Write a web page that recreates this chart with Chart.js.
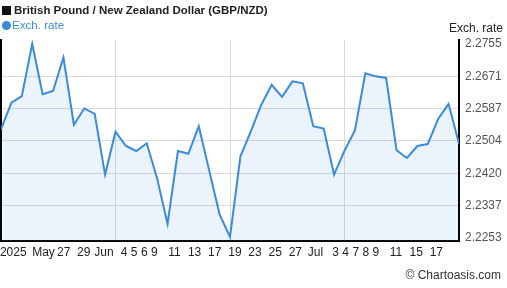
<!DOCTYPE html>
<html>
<head>
<meta charset="utf-8">
<script src="https://cdn.jsdelivr.net/npm/chart.js@4/dist/chart.umd.min.js"></script>
<style>
  body { margin: 0; background: #fff; font-family: 'Liberation Sans', Arial, sans-serif; }
  #wrap { position: relative; width: 507px; height: 288px; }
  #wrap canvas { position: absolute; left: 0; top: 0; }
  .title { position: absolute; left: 2px; top: 3px; font-weight: bold; font-size: 11.5px; line-height: 14px; color: #222; white-space: nowrap; }
  .title .sq { display: inline-block; width: 9px; height: 9px; background: #111; margin-right: 3px; vertical-align: -1px; }
  .legend { position: absolute; left: 2px; top: 18px; font-size: 11.6px; line-height: 14px; color: #3a8ae0; }
  .legend .dot { display: inline-block; width: 9px; height: 9px; border-radius: 50%; background: #3a8ae0; margin-right: 1px; vertical-align: -1px; }
  .ytitle { position: absolute; right: 4px; top: 21px; font-size: 12px; line-height: 14px; color: #222; }
  .credit { position: absolute; right: 6px; top: 268px; font-size: 12px; line-height: 14px; color: #333; }
</style>
</head>
<body>
<div id="wrap">
  <canvas id="rateChart" width="507" height="288"></canvas>
  <div class="title"><span class="sq"></span>British Pound / New Zealand Dollar (GBP/NZD)</div>
  <div class="legend"><span class="dot"></span>Exch. rate</div>
  <div class="ytitle">Exch. rate</div>
  <div class="credit">© Chartoasis.com</div>
</div>
<script>
// business days 19 May - 18 Jul 2025
const dates = [
  '2025-05-19', '2025-05-20', '2025-05-21', '2025-05-22', '2025-05-23',
  '2025-05-26', '2025-05-27', '2025-05-28', '2025-05-29', '2025-05-30',
  '2025-06-02', '2025-06-03', '2025-06-04', '2025-06-05', '2025-06-06',
  '2025-06-09', '2025-06-10', '2025-06-11', '2025-06-12', '2025-06-13',
  '2025-06-16', '2025-06-17', '2025-06-18', '2025-06-19', '2025-06-20',
  '2025-06-23', '2025-06-24', '2025-06-25', '2025-06-26', '2025-06-27',
  '2025-06-30', '2025-07-01', '2025-07-02', '2025-07-03', '2025-07-04',
  '2025-07-07', '2025-07-08', '2025-07-09', '2025-07-10', '2025-07-11',
  '2025-07-14', '2025-07-15', '2025-07-16', '2025-07-17', '2025-07-18'
];

const rates = [
  2.2534, 2.2603, 2.2620, 2.2755, 2.2625, 2.2633, 2.2720, 2.2546, 2.2588, 2.2574,
  2.2417, 2.2528, 2.2491, 2.2478, 2.2498, 2.2407, 2.2290, 2.2478, 2.2471, 2.2542,
  2.2428, 2.2314, 2.2256, 2.2464, 2.2529, 2.2597, 2.2649, 2.2618, 2.2658, 2.2653,
  2.2542, 2.2536, 2.2417, 2.2479, 2.2531, 2.2679, 2.2671, 2.2667, 2.2480, 2.2460,
  2.2491, 2.2496, 2.2561, 2.2600, 2.2497
];

// x tick labels and the day index they belong to
const xTickIdx  = [1, 4, 6, 8, 10, 12, 13, 14, 15, 17, 19, 21, 23, 25, 27, 29, 31, 33, 34, 35, 36, 37, 39, 41, 43];
const xTickText = ['2025', 'May', '27', '29', 'Jun', '4', '5', '6', '9', '11', '13', '17', '19', '23', '25', '27', 'Jul', '3', '4', '7', '8', '9', '11', '15', '17'];

const yTicks = [2.2253, 2.2337, 2.2420, 2.2504, 2.2587, 2.2671, 2.2755];

Chart.defaults.font.family = "'Liberation Sans', Arial, sans-serif";
Chart.defaults.font.size = 12;

const points = rates.map((v, i) => ({ x: i, y: v }));

new Chart(document.getElementById('rateChart'), {
  type: 'line',
  data: {
    datasets: [{
      label: 'Exch. rate',
      data: points,
      borderColor: '#3a8ae0',
      borderWidth: 2,
      backgroundColor: 'rgba(58, 138, 224, 0.1)',
      fill: 'start',
      pointRadius: 0,
      tension: 0,
    }],
  },
  options: {
    responsive: false,
    animation: false,
    layout: { padding: { top: 40, right: 5, bottom: 24.6, left: 1 } },
    plugins: {
      legend: { display: false },
      title: { display: false },
      tooltip: { enabled: false },
    },
    scales: {
      x: {
        type: 'linear',
        min: 0,
        max: dates.length - 1,
        weight: 0,
        ticks: { display: false, stepSize: 11 },
        grid: {
          drawTicks: false,
          color: (c) => (c.tick && (c.tick.value === 0 || c.tick.value === dates.length - 1)) ? 'transparent' : '#dadada',
        },
        border: { color: '#000', width: 2 },
      },
      // label axis: the source spaces its day labels a bit tighter than the points
      xl: {
        type: 'linear',
        position: 'bottom',
        min: -0.22,
        max: 45.25,
        weight: 1,
        afterBuildTicks: (s) => { s.ticks = xTickIdx.map((v) => ({ value: v })); },
        afterFit: (s) => { s.paddingLeft = 0; s.paddingRight = 0; },
        ticks: {
          autoSkip: false,
          maxRotation: 0,
          padding: 4,
          color: '#222',
          callback: (v) => xTickText[xTickIdx.indexOf(v)],
        },
        grid: { display: false, drawTicks: false },
        border: { display: false },
      },
      y: {
        position: 'right',
        min: 2.22454,
        max: 2.2765,
        afterBuildTicks: (s) => { s.ticks = yTicks.map((v) => ({ value: v })); },
        afterFit: (s) => { s.width = 43; },
        ticks: {
          padding: 6,
          color: '#555',
          callback: (v) => Number(v).toFixed(4),
        },
        grid: {
          drawTicks: false,
          color: (c) => (c.index === 0 || c.index === yTicks.length - 1) ? 'transparent' : '#dadada',
        },
        border: { color: '#000', width: 2 },
      },
      yl: {
        position: 'left',
        ticks: { display: false },
        grid: { display: false, drawTicks: false },
        border: { color: '#000', width: 2 },
      },
    },
  },
});
</script>
</body>
</html>
